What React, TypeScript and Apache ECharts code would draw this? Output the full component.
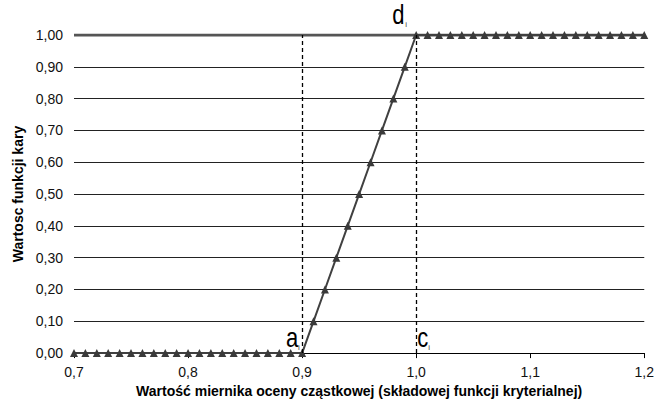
import React, { useEffect, useRef } from "react";
import * as echarts from "echarts";

const xValues = [
  0.7, 0.71, 0.72, 0.73, 0.74, 0.75, 0.76, 0.77, 0.78, 0.79,
  0.8, 0.81, 0.82, 0.83, 0.84, 0.85, 0.86, 0.87, 0.88, 0.89,
  0.9, 0.91, 0.92, 0.93, 0.94, 0.95, 0.96, 0.97, 0.98, 0.99,
  1.0, 1.01, 1.02, 1.03, 1.04, 1.05, 1.06, 1.07, 1.08, 1.09,
  1.1, 1.11, 1.12, 1.13, 1.14, 1.15, 1.16, 1.17, 1.18, 1.19, 1.2,
];
const penaltyValues = [
  0, 0, 0, 0, 0, 0, 0, 0, 0, 0,
  0, 0, 0, 0, 0, 0, 0, 0, 0, 0,
  0, 0.1, 0.2, 0.3, 0.4, 0.5, 0.6, 0.7, 0.8, 0.9,
  1, 1, 1, 1, 1, 1, 1, 1, 1, 1,
  1, 1, 1, 1, 1, 1, 1, 1, 1, 1, 1,
];
const upperLine = [
  [0.7, 1],
  [1.2, 1],
];
const boundA = 0.9;
const boundC = 1.0;

const xName = "Wartość miernika oceny cząstkowej (składowej funkcji kryterialnej)";
const yName = "Wartosc funkcji kary";

const FONT = "'Liberation Sans', Arial, sans-serif";

export default function App() {
  const ref = useRef<HTMLDivElement>(null);

  useEffect(() => {
    document.body.style.margin = "0";
    if (!ref.current) return;
    const chart = echarts.init(ref.current, undefined, { renderer: "svg" });
    const seriesData = xValues.map((x, i) => [x, penaltyValues[i]]);
    const option: any = {
      animation: false,
      backgroundColor: "#ffffff",
      grid: { left: 74, right: 12, top: 35, bottom: 47, containLabel: false },
      xAxis: {
        type: "value",
        min: 0.7,
        max: 1.2,
        interval: 0.1,
        name: xName,
        nameLocation: "middle",
        nameGap: 26,
        nameTextStyle: { fontFamily: FONT, fontSize: 14, fontWeight: "bold", color: "#000" },
        axisLine: { show: true, lineStyle: { color: "#000", width: 1 } },
        axisTick: { show: true, length: 5, lineStyle: { color: "#000" } },
        axisLabel: {
          fontFamily: FONT,
          fontSize: 14,
          color: "#111",
          margin: 12,
          formatter: (v: number) => v.toFixed(1).replace(".", ","),
        },
        splitLine: { show: false },
      },
      yAxis: {
        type: "value",
        min: 0,
        max: 1,
        interval: 0.1,
        name: yName,
        nameLocation: "middle",
        nameGap: 48,
        nameTextStyle: { fontFamily: FONT, fontSize: 14, fontWeight: "bold", color: "#000" },
        axisLine: { show: false },
        axisTick: { show: false },
        axisLabel: {
          fontFamily: FONT,
          fontSize: 14,
          color: "#111",
          margin: 11,
          formatter: (v: number) => v.toFixed(2).replace(".", ","),
        },
        splitLine: { show: true, lineStyle: { color: "#222", width: 1 } },
      },
      series: [
        {
          type: "line",
          data: upperLine,
          symbol: "none",
          lineStyle: { color: "#555", width: 3 },
          silent: true,
          z: 2,
        },
        {
          type: "line",
          data: [],
          symbol: "none",
          markLine: {
            silent: true,
            symbol: "none",
            label: { show: false },
            lineStyle: { color: "#000", type: [4, 3], width: 1.3 },
            data: [{ xAxis: boundA }, { xAxis: boundC }],
          },
          z: 3,
        },
        {
          type: "line",
          data: seriesData,
          symbol: "triangle",
          symbolSize: 8,
          itemStyle: { color: "#3a3a3a" },
          lineStyle: { color: "#404040", width: 2 },
          z: 4,
        },
      ],
    };
    chart.setOption(option);

    const pa = chart.convertToPixel({ gridIndex: 0 } as any, [boundA, 0]) as number[];
    const pc = chart.convertToPixel({ gridIndex: 0 } as any, [boundC, 0]) as number[];
    const pd = chart.convertToPixel({ gridIndex: 0 } as any, [boundC, 1]) as number[];
    const big = { fontFamily: FONT, fontSize: 22, fill: "#000", verticalAlign: "bottom" };
    const small = { fontFamily: FONT, fontSize: 8, fill: "#444", verticalAlign: "bottom" };
    chart.setOption({
      graphic: [
        { type: "text", x: pa[0] - 4, y: pa[1] - 2, scaleY: 1.25, style: { ...big, text: "a", align: "right" } },
        { type: "text", x: pa[0] - 4, y: pa[1] - 2, style: { ...small, text: "i", align: "left" } },
        { type: "text", x: pc[0] + 1, y: pc[1] - 2, scaleY: 1.25, style: { ...big, text: "c", align: "left" } },
        { type: "text", x: pc[0] + 12, y: pc[1] - 2, style: { ...small, text: "i", align: "left" } },
        { type: "text", x: pd[0] - 24, y: pd[1] - 7, scaleY: 1.25, style: { ...big, text: "d", align: "left" } },
        { type: "text", x: pd[0] - 11, y: pd[1] - 7, style: { ...small, text: "i", align: "left" } },
      ],
    });

    return () => chart.dispose();
  }, []);

  return <div ref={ref} style={{ width: 657, height: 403 }} />;
}
